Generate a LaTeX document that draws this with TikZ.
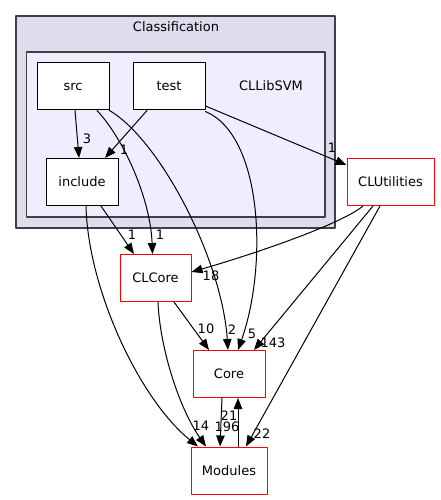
\documentclass[tikz,border=0pt]{standalone}
\usepackage{fontspec}
\setmainfont{DejaVu Sans}
\usetikzlibrary{arrows.meta}
\usetikzlibrary{positioning}
\definecolor{clouter}{HTML}{DDDDEE}
\definecolor{clinner}{HTML}{EEEEFF}
\definecolor{clborder}{HTML}{404040}
\tikzset{
  dirbox/.style={draw=black,fill=white,line width=1pt,minimum width=72pt,minimum height=47pt,inner sep=0pt},
  extbox/.style={dirbox,draw=red},
  dep/.style={->,line width=1pt},
  cnt/.style={inner sep=0pt}
}
\begin{document}
\begin{tikzpicture}[x=1pt,y=-1pt,line cap=round,line join=round,>={Triangle[length=11pt,width=8.5pt]},font=\fontsize{13}{15}\selectfont]
% Draw region settings
\useasboundingbox (0,0) rectangle (440,500);
% Clusters
\draw[clborder,fill=clouter,line width=1.3pt] (16,16) rectangle (335,228);
\node (classif) at (176,27) {Classification};
\draw[clborder,fill=clinner,line width=1.3pt] (26.5,52) rectangle (325,217);
\node (libsvm) at (271,86) {CLLibSVM};
% Directories
\node[dirbox] (src) at (73,86.5) {src};
\node[dirbox] (test) at (169,86.5) {test};
\node[dirbox] (include) at (82,182) {include};
\node[extbox,minimum width=87pt] (clutil) at (390.5,182) {CLUtilities};
\node[extbox,minimum width=71pt] (clcore) at (155.5,278) {CLCore};
\node[extbox] (core) at (229,374) {Core};
\node[extbox,minimum width=76pt] (modules) at (229,470.5) {Modules};
% Dependencies inside CLLibSVM
\draw[dep] ([xshift=2]src.south) -- ([xshift=-3]include.north);
\draw[dep] ([xshift=-22]test.south) -- ([xshift=23]include.north);
% Dependencies leaving CLLibSVM
\draw[dep] ([xshift=24]src.south) .. controls +(28,30) and +(-2,-54) .. ([xshift=-3]clcore.north);
\draw[dep] (src.south east) .. controls +(51,30) and +(-6,-90) .. ([xshift=-1]core.north);
\draw[dep] ([yshift=-1]test.south east) .. controls +(57,24) and +(30,-85) .. ([xshift=9]core.north);
\draw[dep] ([yshift=-19.5]test.east) -- ([yshift=-7]clutil.north west);
\draw[dep] ([xshift=19]include.south) -- ([xshift=-21.5]clcore.north);
\draw[dep] ([xshift=4]include.south) .. controls +(2,84) and +(-58,-47) .. ([xshift=-31]modules.north);
% External dependencies
\draw[dep] ([xshift=18.5]clcore.south) -- ([xshift=-20]core.north);
\draw[dep] ([xshift=2.5]clcore.south) .. controls +(2,48) and +(-26,-37) .. ([xshift=-23]modules.north);
\draw[dep] ([xshift=-27.5]clutil.south) .. controls +(-23,19) and +(59,-17) .. ([yshift=6]clcore.east);
\draw[dep] ([xshift=-17.5]clutil.south) -- ([xshift=25]core.north);
\draw[dep] ([xshift=-10.5]clutil.south) -- ([xshift=17]modules.north);
\draw[dep] ([xshift=-7]core.south) -- ([xshift=-9]modules.north);
\draw[dep] ([xshift=9]modules.north) -- ([xshift=9]core.south);
% Counts
\node[cnt] (n3) at (87,139) {3};
\node[cnt] (n1a) at (124,150) {1};
\node[cnt] (n1b) at (332,148) {1};
\node[cnt] (n1c) at (132,235) {1};
\node[cnt] (n1d) at (160,235) {1};
\node[cnt] (n18) at (211,276) {18};
\node[cnt] (n10) at (206,329) {10};
\node[cnt] (n2) at (232,330) {2};
\node[cnt] (n5) at (252,334) {5};
\node[cnt] (n143) at (273,343) {143};
\node[cnt] (n21) at (229,416) {21};
\node[cnt] (n196) at (227,427) {196};
\node[cnt] (n14) at (201,426) {14};
\node[cnt] (n22) at (262,434) {22};
\end{tikzpicture}
\end{document}
